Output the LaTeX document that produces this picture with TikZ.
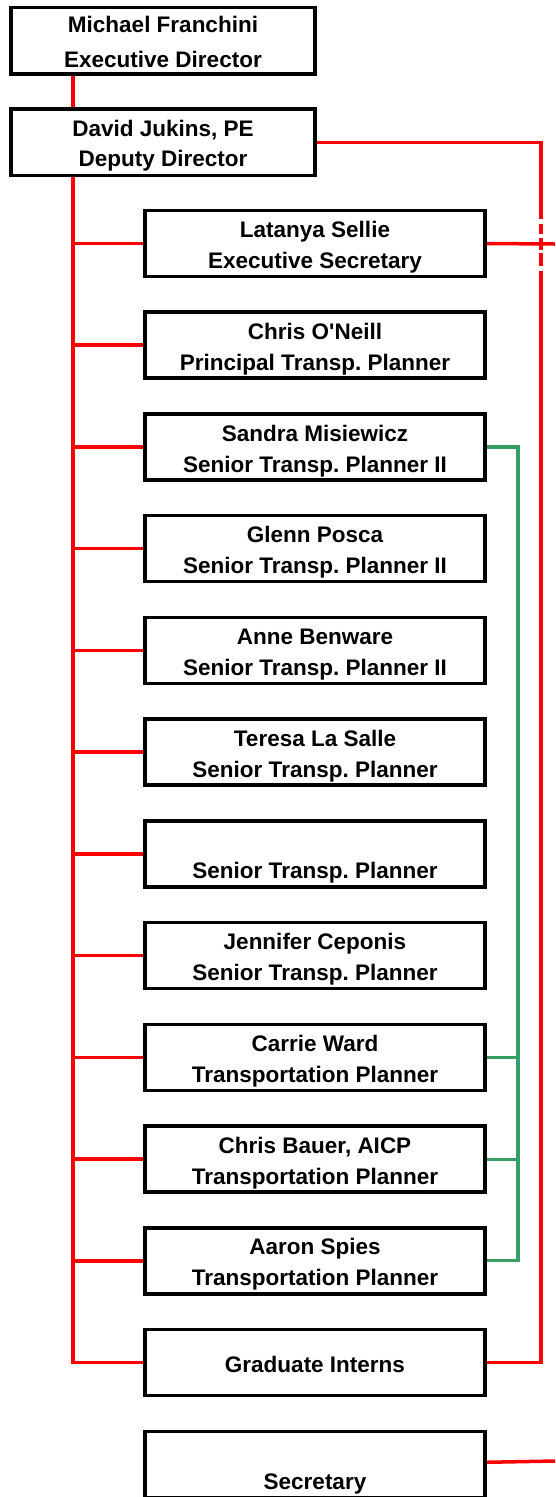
\documentclass[tikz,border=0pt]{standalone}
\usepackage{fontspec}
\setmainfont{Liberation Sans}
\usetikzlibrary{calc}
\pgfdeclarelayer{bg}
\pgfsetlayers{bg,main}
\definecolor{orgred}{RGB}{255,0,0}
\definecolor{orggreen}{RGB}{56,158,102}
\newcommand{\lnst}{\rule[-5pt]{0pt}{29pt}}
\frenchspacing
\begin{document}
\begin{tikzpicture}[x=1pt,y=-1pt,
  orgbox/.style={draw, line width=3.5pt, minimum width=340pt, minimum height=66pt,
    inner sep=0pt, outer sep=0pt, align=center,
    font=\fontsize{22.5}{31}\selectfont\bfseries\frenchspacing},
  topbox/.style={orgbox, minimum width=304pt, minimum height=66.5pt},
  redline/.style={draw=orgred, line width=3.5pt, line join=miter},
  greenline/.style={draw=orggreen, line width=3.2pt, line join=miter},
  gapline/.style={draw=white, line width=5pt}]
\useasboundingbox (0,0) rectangle (555,1497);

\node[topbox, font=\fontsize{22.5}{35}\selectfont\bfseries\frenchspacing] (exec) at (163,40.5)
  {\lnst Michael Franchini\\\lnst Executive Director};
\node[topbox, font=\fontsize{22.5}{30}\selectfont\bfseries\frenchspacing] (dep) at (163,142.4)
  {\lnst David Jukins, PE\\\lnst Deputy Director};

\node[orgbox] (n0) at (315,243.5) {\lnst Latanya Sellie\\\lnst Executive Secretary};
\node[orgbox] (n1) at (315,345.2) {\lnst Chris O\textquotesingle Neill\\\lnst Principal Transp. Planner};
\node[orgbox] (n2) at (315,447.0) {\lnst Sandra Misiewicz\\\lnst Senior Transp. Planner II};
\node[orgbox] (n3) at (315,548.7) {\lnst Glenn Posca\\\lnst Senior Transp. Planner II};
\node[orgbox] (n4) at (315,650.4) {\lnst Anne Benware\\\lnst Senior Transp. Planner II};
\node[orgbox] (n5) at (315,752.2) {\lnst Teresa La Salle\\\lnst Senior Transp. Planner};
\node[orgbox] (n6) at (315,853.9) {\lnst\\\lnst Senior Transp. Planner};
\node[orgbox] (n7) at (315,955.6) {\lnst Jennifer Ceponis\\\lnst Senior Transp. Planner};
\node[orgbox] (n8) at (315,1057.3) {\lnst Carrie Ward\\\lnst Transportation Planner};
\node[orgbox] (n9) at (315,1159.1) {\lnst Chris Bauer, AICP\\\lnst Transportation Planner};
\node[orgbox] (n10) at (315,1260.8) {\lnst Aaron Spies\\\lnst Transportation Planner};
\node[orgbox] (grad) at (315,1362.5) {\lnst Graduate Interns};
\node[orgbox] (sec) at (315,1464.3) {\lnst\\\lnst Secretary};

\coordinate (tr) at ([xshift=62pt]dep.south west);
\coordinate (latR) at (555,244);
\coordinate (secR) at (555,1461);
\coordinate (gx) at ([xshift=33pt]n2.east);

\begin{pgfonlayer}{bg}
  % vertical trunk
  \draw[redline] ([xshift=62pt]exec.south west) -- ([xshift=62pt]dep.north west);
  \draw[redline] (tr) |- (grad.west);
  \foreach \n in {n0,n1,n2,n3,n4,n5,n6,n7,n8,n9,n10}
    \draw[redline] (\n.west) -- (\n.west -| tr);
  % right side line
  \draw[redline] (dep.east) -| ([xshift=56pt]grad.east) -- (grad.east);
  \draw[redline] (n0.east) -- (latR);
  \draw[redline] ([yshift=2pt]sec.east) -- (secR);
  % dashed gaps
  \foreach \a/\b in {219/224,234/238,250/253,266/271}
    \draw[gapline] (541,\a) -- (541,\b);
  % green
  \draw[greenline] (n2.east) -| (gx |- n10.east) -- (n10.east);
  \draw[greenline] (n8.east) -- (n8.east -| gx);
  \draw[greenline] (n9.east) -- (n9.east -| gx);
\end{pgfonlayer}
\end{tikzpicture}
\end{document}
